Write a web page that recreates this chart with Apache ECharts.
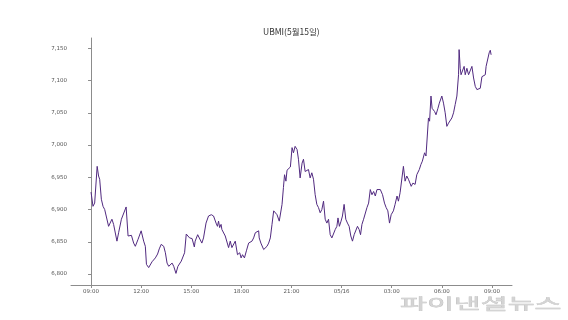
<!DOCTYPE html>
<html>
<head>
<meta charset="utf-8">
<script src="https://cdn.jsdelivr.net/npm/echarts@6/dist/echarts.min.js"></script>
<style>html,body{margin:0;padding:0;background:#fff;}#c{width:568px;height:320px;}</style>
</head>
<body>
<div id="c"></div>
<script>
const titleText = 'UBMI(5월15일)';
const watermarkText = '파이낸셜뉴스';
const tickLabelsX = ['09:00','12:00','15:00','18:00','21:00','05/16','03:00','06:00','09:00'];
const tickValuesY = [6800, 6850, 6900, 6950, 7000, 7050, 7100, 7150];

const times = [
'09:00','09:07','09:13','09:22','09:27','09:31','09:37','09:43','09:49','09:55',
'10:03','10:10','10:15','10:21','10:27','10:33','10:39','10:49','10:56','11:06',
'11:13','11:19','11:25','11:33','11:39','11:49','12:00','12:09','12:15','12:19',
'12:27','12:33','12:39','12:45','12:51','12:59','13:05','13:12','13:21','13:27',
'13:33','13:39','13:45','13:51','13:57','14:05','14:12','14:18','14:24','14:30',
'14:36','14:42','14:47','14:54','15:03','15:11','15:14','15:23','15:30','15:38',
'15:44','15:53','16:02','16:12','16:20','16:29','16:34','16:38','16:42','16:47',
'16:50','16:56','17:02','17:08','17:14','17:20','17:26','17:32','17:38','17:42',
'17:46','17:50','17:54','17:59','18:04','18:11','18:18','18:26','18:32','18:38',
'18:44','18:50','18:56','19:02','19:04','19:10','19:20','19:26','19:32','19:38',
'19:44','19:50','19:56','20:02','20:08','20:16','20:20','20:26','20:31','20:35',
'20:40','20:44','20:49','20:56','21:02','21:07','21:13','21:20','21:25','21:31',
'21:38','21:43','21:49','21:55','22:01','22:07','22:13','22:19','22:25','22:31',
'22:37','22:43','22:49','22:55','23:01','23:07','23:13','23:19','23:25','23:31',
'23:37','23:43','23:47','23:52','23:58','00:03','00:09','00:15','00:21','00:27',
'00:33','00:39','00:45','00:51','00:57','01:03','01:08','01:13','01:19','01:25',
'01:31','01:37','01:43','01:49','01:55','02:01','02:07','02:12','02:19','02:27',
'02:34','02:40','02:46','02:52','02:58','03:06','03:12','03:19','03:24','03:30',
'03:37','03:42','03:48','03:54','04:00','04:10','04:16','04:24','04:30','04:39',
'04:45','04:50','04:58','05:03','05:07','05:12','05:16','05:21','05:25','05:30',
'05:34','05:39','05:46','05:51','06:00','06:06','06:12','06:18','06:24','06:30',
'06:36','06:42','06:48','06:54','07:00','07:02','07:06','07:09','07:14','07:20',
'07:24','07:30','07:36','07:42','07:48','07:54','08:00','08:06','08:12','08:18',
'08:24','08:29','08:36','08:39','08:45','08:50','08:54','08:57'
];
const values = [
6927,6905,6910,6967,6952,6947,6916,6905,6900,6903,
6874,6874,6885,6877,6877,6851,6864,6885,6887,6904,
6859,6859,6860,6848,6843,6854,6867,6851,6843,6815,
6810,6808,6819,6817,6825,6831,6839,6846,6843,6833,
6817,6812,6815,6817,6812,6801,6812,6815,6820,6817,
6833,6862,6865,6856,6855,6842,6851,6861,6859,6848,
6856,6879,6890,6892,6890,6879,6874,6882,6872,6877,
6869,6867,6859,6856,6841,6851,6841,6843,6851,6851,
6830,6828,6833,6825,6830,6825,6836,6848,6851,6851,
6856,6864,6867,6867,6856,6848,6838,6841,6843,6848,
6856,6877,6898,6895,6892,6882,6882,6908,6934,6954,
6944,6961,6959,6966,6996,6988,6998,6993,6978,6949,
6972,6978,6959,6957,6962,6949,6957,6947,6923,6908,
6903,6895,6900,6913,6885,6879,6885,6861,6856,6854,
6869,6874,6887,6874,6882,6890,6908,6885,6879,6874,
6859,6851,6861,6859,6874,6869,6861,6877,6885,6887,
6903,6910,6931,6923,6928,6921,6931,6928,6931,6923,
6910,6903,6898,6879,6892,6898,6908,6921,6913,6926,
6928,6967,6944,6952,6947,6936,6941,6939,6954,6962,
6970,6975,6988,6983,6980,7042,7037,7076,7057,7060,
7052,7047,7057,7065,7076,7065,7050,7029,7034,7037,
7042,7050,7063,7076,7109,7148,7119,7109,7109,7122,
7109,7119,7109,7106,7122,7104,7091,7086,7088,7088,
7106,7109,7109,7122,7124,7143,7147,7140
];

function toMinutes(t) {
  const [h, m] = t.split(':').map(Number);
  let mins = (h - 9) * 60 + m;
  if (h < 9) mins += 24 * 60;
  return mins;
}
const seriesData = times.map((t, i) => [toMinutes(t), values[i]]);
const tickValuesX = tickLabelsX.map((_, i) => i * 180);

const chart = echarts.init(document.getElementById('c'), null, {renderer: 'canvas'});
const axisColor = '#8c8c8c';
const labelColor = '#555';
chart.setOption({
  animation: false,
  backgroundColor: '#fff',
  title: {
    text: titleText,
    left: 263, top: 28, padding: 0,
    textStyle: {fontSize: 8.5, fontWeight: 'normal', color: '#333', fontFamily: 'Noto Sans CJK KR'}
  },
  grid: {left: 71, right: 56, top: 38, bottom: 35, containLabel: false},
  xAxis: {
    type: 'value', min: -72, max: 1512,
    splitLine: {show: false},
    axisLine: {lineStyle: {color: axisColor, width: 1}},
    axisTick: {show: true, length: 3, customValues: tickValuesX, lineStyle: {color: axisColor}},
    axisLabel: {
      customValues: tickValuesX, fontSize: 5.5, color: labelColor, margin: 4,
      fontFamily: 'DejaVu Sans',
      formatter: v => tickLabelsX[Math.round(v / 180)]
    }
  },
  yAxis: {
    type: 'value', min: 6783, max: 7166,
    splitLine: {show: false},
    axisLine: {show: true, lineStyle: {color: axisColor, width: 1}},
    axisTick: {show: true, length: 3, customValues: tickValuesY, lineStyle: {color: axisColor}},
    axisLabel: {
      customValues: tickValuesY, fontSize: 5.5, color: labelColor, margin: 4,
      fontFamily: 'DejaVu Sans',
      formatter: v => v.toLocaleString('en-US')
    }
  },
  series: [{
    type: 'line',
    data: seriesData,
    showSymbol: false,
    lineStyle: {color: '#512a80', width: 1},
    itemStyle: {color: '#512a80'}
  }],
  graphic: [{
    type: 'text', x: 400, y: 296,
    scaleX: 1.95, scaleY: 1.0, originX: 0, originY: 0,
    style: {
      text: watermarkText, fontSize: 15, fontWeight: 'normal',
      fontFamily: 'Noto Sans CJK KR',
      fill: '#d4d4d4', stroke: '#bdbdbd', lineWidth: 0.5
    }
  }]
});
</script>
</body>
</html>
